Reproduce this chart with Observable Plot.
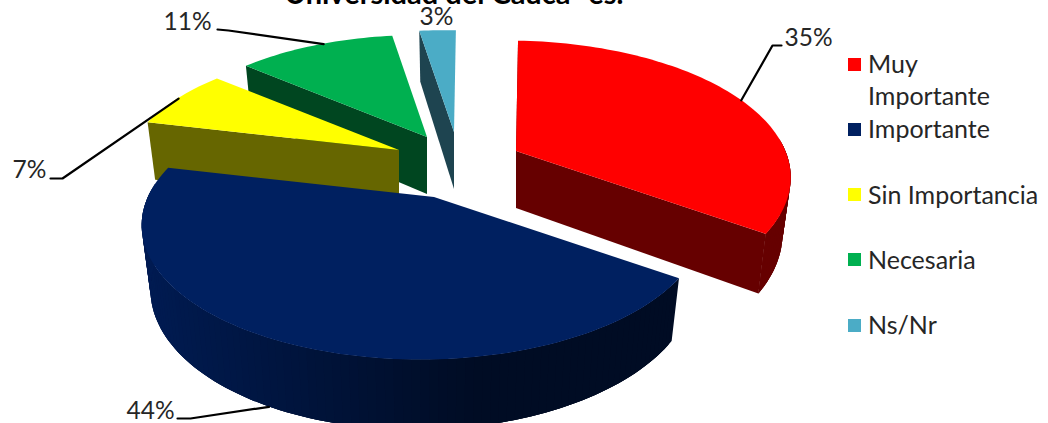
<!DOCTYPE html>
<html><head><meta charset="utf-8">
<script src="https://cdn.jsdelivr.net/npm/d3@7"></script>
<script src="https://cdn.jsdelivr.net/npm/@observablehq/plot@0.6"></script>
<style>
html,body{margin:0;padding:0;background:#fff;overflow:hidden}
#wrap{position:relative;width:1048px;height:423px;overflow:hidden;font-family:Lato,sans-serif}
#wrap svg{position:absolute;left:0;top:0}
.legend{position:absolute;left:848px;top:32px;width:200px;color:#262626;font-size:25px;line-height:32px}
.row{position:relative;height:65.25px}
.row i{position:absolute;left:0;top:25.5px;width:13px;height:13px}
.row span{position:absolute;left:20px;top:15px;width:150px}
.row.nowrap span{width:auto;white-space:nowrap}
</style></head><body><div id="wrap"></div>
<script>
const categories = ["Muy Importante","Importante","Sin Importancia","Necesaria","Ns/Nr"];
const values = [34.6,43.9,7.4,11.4,2.7];
const topColors = ["#ff0000","#002060","#ffff00","#00b050","#4bacc6"];
const sideColors = ["#660000","#001a50","#666600","#004620","#1e4450"];
const apexX = [516,434,399,427,454];
const apexY = [151,197,150,137,132];
const scaleBy = [1.03,1.01,0.955,0.95,0.95];
const labelText = ["35%","44%","7%","11%","3%"];
const labelX = [808,150,29,187,436];
const labelY = [38,411,170,22,17];
const elbowA = [[772,45],[190,418],[62,178],[228,30],null];
const elbowB = [[781,45],[177,418],[50,178],[217,29],null];
const leaderShift = [1.5,6,0,2,0];

const k=0.2, j=-0.04, R=272, H=128.6, D=57, bottomScale=0.97, startDeg=0.5;
const rad=d=>d*Math.PI/180;
function project(i,deg){
  const X=Math.sin(rad(deg)),Y=-Math.cos(rad(deg));
  const s=1/(1-k*Y-j*X);
  const rx=R*X*s*scaleBy[i], ry=H*Y*s*scaleBy[i];
  return {x:apexX[i]+rx,y:apexY[i]+ry,bx:apexX[i]+rx*bottomScale,by:apexY[i]+ry*bottomScale+D*s*(i==1?1.05:1)};
}
const total=d3.sum(values);
let acc=startDeg;
const ranges=values.map(v=>{const a=acc;acc+=v/total*360;return [a,acc]});
const tops=[],walls=[],faces=[];
values.forEach((v,i)=>{
  const [a0,a1]=ranges[i];
  const n=Math.max(8,Math.round((a1-a0)/1.5));
  const pts=d3.range(n+1).map(t=>project(i,a0+(a1-a0)*t/n));
  // near-side wall: overlapping pieces so the shading has no seams
  for(let t=0;t<n;t++){
    const mid=(a0+(a1-a0)*(t+.5)/n)%360;
    const frontish=Math.cos(rad(mid))<0.05 || (i==0&&mid>85);
    if(!frontish) continue;
    let col=sideColors[i];
    if(i==1){const f=(pts[t].x-142)/(680-142); col=d3.interpolateRgb("#001b52","#000c24")(Math.min(1,f*1.6));}
    d3.range(t,Math.min(n,t+3)+1).forEach(u=>{
      const p=pts[u];
      walls.push({i,id:i+"-"+t,x1:p.x,y1:p.y,x2:p.bx,y2:p.by,col});
    });
  }
  pts.forEach(p=>tops.push({i,x1:p.x,y1:p.y,x2:apexX[i],y2:apexY[i]}));
  const ap={x:apexX[i],y:apexY[i],bx:apexX[i],by:apexY[i]+D};
  const faceFrom=(e,name)=>[{i,id:i+name,x1:e.x,y1:e.y,x2:e.bx,y2:e.by,col:sideColors[i]},{i,id:i+name,x1:ap.x,y1:ap.y,x2:ap.bx,y2:ap.by,col:sideColors[i]}];
  if(i==0) faces.push(...faceFrom(pts[n],"e"),...faceFrom(pts[0],"s"));
  if(i>=2) faces.push(...faceFrom(pts[0],"s"));
});
const leader=[];
values.forEach((v,i)=>{
  if(!elbowA[i])return;
  const p=project(i,(ranges[i][0]+ranges[i][1])/2+leaderShift[i]);
  const start=i==1?{x:p.bx,y:p.by}:p;
  leader.push({i,x:start.x,y:start.y},{i,x:elbowA[i][0],y:elbowA[i][1]},{i,x:elbowB[i][0],y:elbowB[i][1]});
});
const marks=[];
[4,3,2,0,1].forEach(i=>{
  const opts={x1:"x1",y1:"y1",x2:"x2",y2:"y2",z:"id",fill:"col"};
  marks.push(Plot.area(faces.filter(d=>d.i==i),opts));
  marks.push(Plot.area(walls.filter(d=>d.i==i),opts));
  marks.push(Plot.area(tops.filter(d=>d.i==i),{x1:"x1",y1:"y1",x2:"x2",y2:"y2",fill:topColors[i]}));
});
marks.push(Plot.line(leader,{x:"x",y:"y",z:"i",stroke:"#000",strokeWidth:2.2}));
marks.push(Plot.text(labelText,{x:(d,i)=>labelX[i],y:(d,i)=>labelY[i],text:d=>d,fontSize:24.5,fill:"#262626",fontFamily:"Lato"}));
marks.push(Plot.text(["Universidad del Cauca -es."],{x:()=>453.5,y:()=>-6,text:d=>d,fontSize:29,fontWeight:"bold",fill:"#000",fontFamily:"Lato"}));
const chart=Plot.plot({width:1048,height:423,margin:0,
  x:{domain:[0,1048],range:[0,1048],axis:null},
  y:{domain:[0,423],range:[0,423],axis:null},
  color:{type:"identity"},
  style:{background:"transparent"},
  marks});
const wrap=document.getElementById("wrap");
wrap.appendChild(chart);
const lg=document.createElement("div");lg.className="legend";
categories.forEach((c,i)=>{
  const r=document.createElement("div");r.className="row"+(i==0?"":" nowrap");
  r.innerHTML=`<i style="background:${topColors[i]}"></i><span>${c}</span>`;
  lg.appendChild(r);
});
wrap.appendChild(lg);
</script></body></html>
